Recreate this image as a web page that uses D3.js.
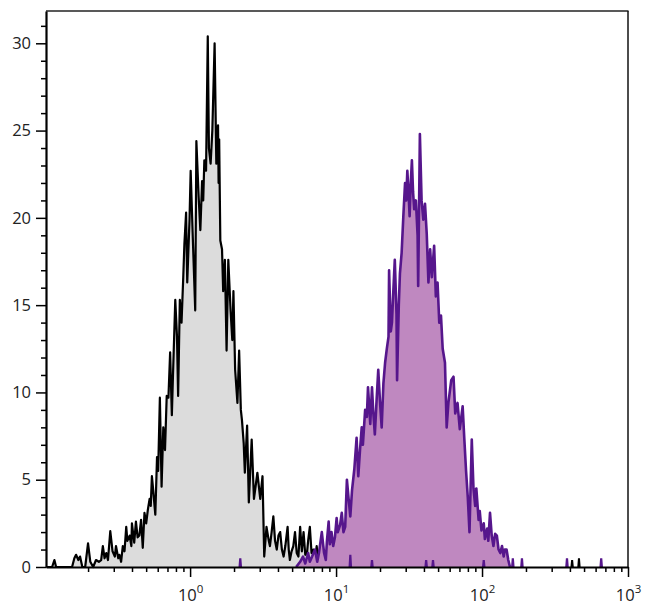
<!DOCTYPE html>
<html><head><meta charset="utf-8">
<script src="https://cdn.jsdelivr.net/npm/d3@7"></script>
<style>
body{margin:0;background:#fff}
svg{display:block}
text{font-family:"Open Sans",sans-serif}
</style>
</head><body>
<svg id="chart" width="650" height="612"></svg>
<script>
// ---- DATA (histogram channels: 256 channels per decade, channel 0 = 0.1) ----
const grayChannel = [
  4,14,18,21,49,53,56,60,63,67,
  72,77,81,86,91,96,100,103,106,109,
  112,116,120,124,126,130,132,135,138,141,
  144,146,150,153,154,158,161,164,167,170,
  173,176,179,182,185,187,189,191,195,198,
  200,203,206,209,212,215,218,221,224,226,
  230,233,235,238,241,244,246,249,251,255,
  257,261,265,267,271,274,277,279,281,284,
  287,289,292,295,299,302,305,306,307,309,
  312,314,317,320,323,327,330,332,335,339,
  342,345,347,350,352,356,359,364,368,374,
  379,383,386,390,394,396,399,402,405,408,
  411,414,417,420,423,427,429,431,434,437,
  440,443,446,449,452,455,458,461,463,466,
  469,472,475,478,481,484,487];
const grayCount = [
  0,0,0.4,0,0,0.5,0.7,0.4,0.6,0,
  0,1.35,0.3,0,0.4,0.3,0.4,1.2,0.5,0.8,
  0.4,2.05,0.9,0.6,1.2,0.5,0.7,0.3,1.2,0.9,
  2.3,1.5,1.8,1.2,2.5,1.4,2.6,1.7,1.8,2.7,
  1.1,3.1,2.5,3.3,3.9,3.5,5.2,4.5,3.0,6.3,
  5.5,9.7,4.6,8.0,6.7,9.8,9.7,12.3,8.7,11,
  15.3,13.2,9.8,15.3,14,16.6,18.5,20.3,16.3,19.9,
  22.7,18.6,14.7,24.4,21.2,19.3,22.1,21,23.3,22.7,
  30.4,24,23.1,25.0,30.0,23.1,25.3,22,24.5,18.7,
  18.2,15.8,17.6,12.4,17.6,14.7,13,15.8,11.3,9.4,
  12.4,9,8.4,7.1,5.4,8.1,3.7,7.3,3.9,5.4,
  3.9,5.2,0.6,2.3,1.5,1.2,2.0,2.9,1.5,1.0,
  1.8,2.0,1.0,0.6,1.2,2.3,1.0,0.4,0.9,1.2,
  2.0,0.8,0.6,2.3,0.9,2.0,0.7,0.8,1.5,2.3,
  0.8,1.0,0.4,1.2,0.3,0.5,0];

const purpleChannel = [
  442,449,454,458,463,466,470,475,479,482,
  487,491,494,496,499,501,504,507,510,513,
  515,519,522,525,528,531,534,537,540,544,
  548,551,554,557,559,563,566,568,572,575,
  577,580,583,586,589,592,595,598,601,604,
  605,608,610,612,615,618,619,622,624,627,
  630,633,635,637,639,641,643,645,647,649,
  652,655,656,659,662,665,668,671,674,677,
  680,684,687,690,693,696,699,703,706,709,
  714,718,721,725,729,734,737,740,743,746,
  750,753,756,758,762,764,767,771,773,777,
  779,782,785,788,791,794,797,800,803,806,
  808,811,814,817];
const purpleCount = [
  0,0.3,0.6,0.2,0.8,0.3,0.6,1.0,0.3,0.8,
  2.0,0.8,0.4,1.5,2.6,1.3,2.0,1.2,1.7,2.8,
  2.0,2.4,3.1,2.0,2.3,5.0,3.9,2.9,4.4,5.6,
  7.4,5.2,6.7,8.0,7.0,9.0,8.6,10.3,8.2,10.3,
  9.0,7.6,9.5,11.3,9.5,8.0,10.5,11.7,12.5,13.2,
  17.0,13.5,14.0,15.5,17.6,14.5,10.7,15.0,16.8,18.0,
  20.1,22.0,21.0,22.7,21.5,20.1,22.0,23.3,21.5,20.5,
  21.0,19.0,16.1,24.8,21.0,19.9,20.8,19.1,16.3,18.2,
  16.6,18.4,15.5,16.3,14.0,14.4,12.5,11.7,8.0,9.4,
  10.7,10.9,8.8,9.4,7.9,9.2,7.3,5.5,4.0,2.0,
  7.3,4.5,3.5,4.5,2.7,3.2,2.1,2.5,1.6,2.2,
  1.5,3.1,1.8,1.2,1.9,1.8,1.0,0.8,1.2,0.6,
  1.0,1.0,0.4,0];

// isolated single-channel events
const grayEventChannel = [926, 938];
const grayEventCount = [0.4, 0.5];
const purpleEventChannel = [344, 537, 575, 670, 682, 771, 822, 838, 917, 977];
const purpleEventCount = [0.5, 0.7, 0.4, 0.4, 0.4, 0.4, 0.5, 0.5, 0.5, 0.5];

const yTicksMajor = [0, 5, 10, 15, 20, 25, 30];
const xTicksMajor = [1, 10, 100, 1000];
const xTickLabelBase = "10";
const xTickLabelExp = ["0", "1", "2", "3"];

const channelsPerDecade = 256, channelOrigin = 0.1;
const xMin = 0.103, xMax = 1000, yMax = 31.85;

// ---- CHART ----
const toIntensity = ch => channelOrigin * Math.pow(10, ch / channelsPerDecade);
const svg = d3.select("#chart");
const L = 46, R = 628, T = 11, B = 567;
const x = d3.scaleLog().domain([xMin, xMax]).range([L, R]);
const y = d3.scaleLinear().domain([0, yMax]).range([B, T]);

const mk = (chs, cs) => chs.map((c, i) => ({v: toIntensity(c), n: cs[i]}));
const grayPts = mk(grayChannel, grayCount);
const purplePts = mk(purpleChannel, purpleCount);

const area = d3.area().x(d => x(d.v)).y0(y(0)).y1(d => y(d.n));
const line = d3.line().x(d => x(d.v)).y(d => y(d.n));

const bump = (ch, n) => [
  {v: toIntensity(ch - 1.2), n: 0}, {v: toIntensity(ch), n: n}, {v: toIntensity(ch + 1.2), n: 0}];

const plot = svg.append("g");
plot.append("path").attr("d", area(grayPts)).attr("fill", "#dcdcdc");
plot.append("path").attr("d", line(grayPts)).attr("fill", "none")
  .attr("stroke", "#000").attr("stroke-width", 2.2).attr("stroke-linejoin", "round");
grayEventChannel.forEach((c, i) => plot.append("path")
  .attr("d", line(bump(c, grayEventCount[i]))).attr("fill", "#000")
  .attr("stroke", "#000").attr("stroke-width", 2));

plot.append("path").attr("d", area(purplePts)).attr("fill", "#bf88c0");
plot.append("path").attr("d", line(purplePts)).attr("fill", "none")
  .attr("stroke", "#56168c").attr("stroke-width", 2.6).attr("stroke-linejoin", "round");
purpleEventChannel.forEach((c, i) => plot.append("path")
  .attr("d", line(bump(c, purpleEventCount[i]))).attr("fill", "#56168c")
  .attr("stroke", "#56168c").attr("stroke-width", 2.2));

// frame top / right
svg.append("line").attr("x1", L).attr("x2", R + 0.5).attr("y1", y(yMax)).attr("y2", y(yMax))
  .attr("stroke", "#222").attr("stroke-width", 1.3);
svg.append("line").attr("x1", x(xMax)).attr("x2", x(xMax)).attr("y1", T).attr("y2", B)
  .attr("stroke", "#111").attr("stroke-width", 1.5);

// Y axis
const yMinor = d3.range(0, Math.floor(yMax) + 1);
const yAxis = d3.axisLeft(y).tickValues(yMinor).tickSize(5).tickSizeOuter(0).tickPadding(0)
  .tickFormat(d => yTicksMajor.includes(d) ? d : "");
const gy = svg.append("g").attr("transform", `translate(${L},0)`).call(yAxis);
gy.select(".domain").attr("stroke", "#000").attr("stroke-width", 2.2);
gy.selectAll(".tick line").attr("stroke", "#000").attr("stroke-width", 1.5)
  .attr("x2", d => yTicksMajor.includes(d) ? -10 : -5);
gy.selectAll(".tick text").attr("x", -15).attr("font-size", 16.5).attr("fill", "#222")
  .attr("font-family", "'Open Sans', sans-serif");

// X axis
const xMinor = [];
[0.1, 1, 10, 100].forEach(dec => d3.range(1, 10).forEach(k => {
  const v = dec * k; if (v >= xMin && v <= xMax) xMinor.push(v); }));
xMinor.push(1000);
const isMajor = v => xTicksMajor.some(m => Math.abs(m - v) / m < 1e-9);
const xAxis = d3.axisBottom(x).tickValues(xMinor).tickSize(5).tickSizeOuter(0).tickFormat(() => "");
const gx = svg.append("g").attr("transform", `translate(0,${B})`).call(xAxis);
gx.select(".domain").attr("stroke", "#000").attr("stroke-width", 2.2);
gx.selectAll(".tick line").attr("stroke", "#000").attr("stroke-width", 1.5)
  .attr("y2", d => isMajor(d) ? 10 : 5);
gx.selectAll(".tick").filter(d => isMajor(d)).each(function(d) {
  const i = xTicksMajor.findIndex(m => Math.abs(m - d) / m < 1e-9);
  const t = d3.select(this).select("text").text(null)
    .attr("y", 34).attr("dy", 0).attr("font-size", 16.5).attr("fill", "#222")
    .attr("text-anchor", "middle").attr("font-family", "'Open Sans', sans-serif");
  t.append("tspan").text(xTickLabelBase);
  t.append("tspan").text(xTickLabelExp[i]).attr("font-size", 11.5).attr("dy", -8);
});
</script>
</body></html>
